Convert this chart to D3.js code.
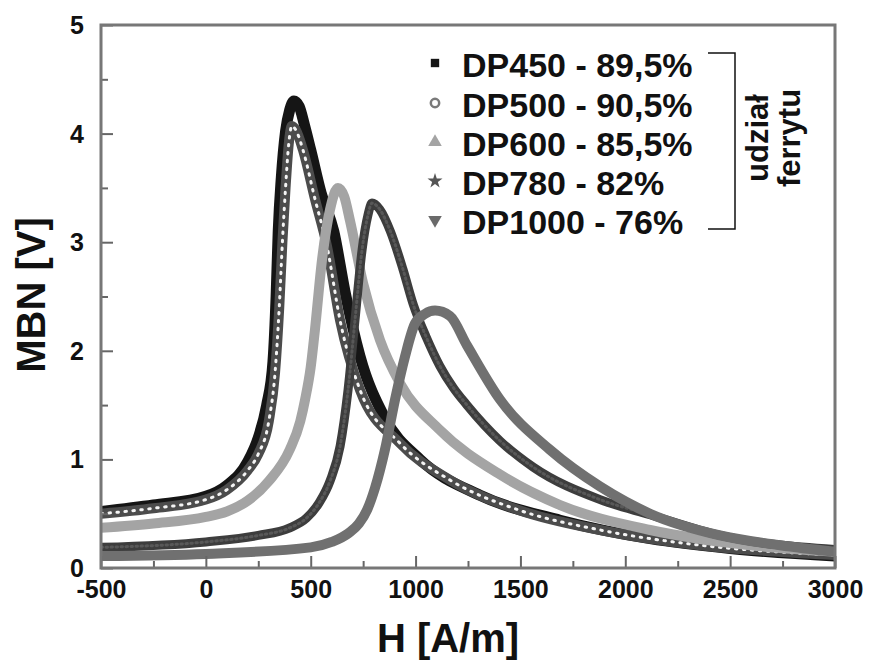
<!DOCTYPE html>
<html>
<head>
<meta charset="utf-8">
<script src="https://cdn.jsdelivr.net/npm/d3@7/dist/d3.min.js"></script>
<style>
  body { margin: 0; background: #fff; }
  svg text { font-family: "Liberation Sans", Arial, sans-serif; font-weight: bold; fill: #111; }
</style>
</head>
<body>
<svg id="chart" width="875" height="662"></svg>
<script>
// values: H [A/m] and MBN [V]
const H_DP450   = [-500, -250, 0, 100, 200, 250, 290, 320, 335, 345, 360, 380, 400, 420, 445, 470, 500, 550, 610, 663, 735, 854, 1021, 1307, 1689, 2118, 2500, 3000];
const MBN_DP450 = [0.52, 0.58, 0.66, 0.76, 0.98, 1.2, 1.5, 1.9, 2.5, 3.1, 3.6, 4.02, 4.22, 4.3, 4.25, 4.08, 3.85, 3.45, 3.1, 2.55, 1.95, 1.38, 1.0, 0.67, 0.44, 0.27, 0.18, 0.11];

const H_DP500   = [-500, -250, 0, 100, 200, 250, 300, 330, 350, 365, 380, 395, 410, 430, 463, 520, 578, 640, 735, 925, 1164, 1498, 1880, 2356, 3000];
const MBN_DP500 = [0.5, 0.55, 0.63, 0.72, 0.9, 1.05, 1.35, 1.8, 2.4, 3.0, 3.5, 3.9, 4.07, 4.03, 3.85, 3.4, 2.96, 2.28, 1.64, 1.15, 0.81, 0.53, 0.35, 0.21, 0.12];

const H_DP600   = [-500, -250, 0, 100, 200, 300, 400, 450, 473, 500, 520, 554, 592, 630, 660, 687, 750, 830, 926, 1116, 1403, 1689, 2118, 2595, 3000];
const MBN_DP600 = [0.37, 0.41, 0.47, 0.52, 0.62, 0.8, 1.09, 1.35, 1.55, 1.85, 2.19, 2.84, 3.3, 3.5, 3.42, 3.2, 2.62, 2.1, 1.7, 1.27, 0.86, 0.58, 0.35, 0.21, 0.15];

const H_DP780   = [-500, 0, 250, 400, 480, 540, 592, 640, 678, 711, 745, 773, 792, 830, 880, 940, 990, 1050, 1116, 1180, 1245, 1403, 1560, 1880, 2118, 2452, 3000];
const MBN_DP780 = [0.19, 0.24, 0.3, 0.37, 0.46, 0.6, 0.8, 1.12, 1.64, 2.28, 2.93, 3.25, 3.36, 3.3, 3.1, 2.75, 2.42, 2.13, 1.86, 1.66, 1.5, 1.17, 0.93, 0.63, 0.49, 0.3, 0.17];

const H_DP1000   = [-500, 0, 500, 600, 680, 730, 770, 807, 854, 902, 950, 997, 1045, 1093, 1164, 1245, 1403, 1640, 1880, 2118, 2452, 2738, 3000];
const MBN_DP1000 = [0.11, 0.13, 0.19, 0.24, 0.32, 0.41, 0.54, 0.74, 1.09, 1.55, 1.95, 2.25, 2.34, 2.37, 2.32, 2.05, 1.55, 1.09, 0.75, 0.5, 0.3, 0.21, 0.15];

const seriesNames = ["DP450 - 89,5%", "DP500 - 90,5%", "DP600 - 85,5%", "DP780 - 82%", "DP1000 - 76%"];
const xMajor = [-500, 0, 500, 1000, 1500, 2000, 2500, 3000];
const xMinor = [-250, 250, 750, 1250, 1750, 2250, 2750];
const yMajor = [0, 1, 2, 3, 4, 5];
const yMinor = [0.5, 1.5, 2.5, 3.5, 4.5];

const styles = [
  { band: "#151515", w: 11, symbol: d3.symbolSquare, size: 70, fill: "#151515", stroke: "none" },
  { band: "#4c4c4c", w: 10, dots: "#f4f4f4", dotW: 3, dash: "1.5 6.5", symbol: d3.symbolCircle, size: 55, fill: "#fff", stroke: "#7a7a7a" },
  { band: "#a4a4a4", w: 10, symbol: d3.symbolTriangle, size: 80, fill: "#a4a4a4", stroke: "none" },
  { band: "#3d3d3d", w: 9, dots: "#585858", dotW: 3, dash: "1.5 3.5", symbol: d3.symbolStar, size: 70, fill: "#555", stroke: "none" },
  { band: "#707070", w: 10, symbol: d3.symbolTriangle, size: 80, fill: "#6a6a6a", stroke: "none", flip: true }
];

const series = [
  d3.zip(H_DP450, MBN_DP450),
  d3.zip(H_DP500, MBN_DP500),
  d3.zip(H_DP600, MBN_DP600),
  d3.zip(H_DP780, MBN_DP780),
  d3.zip(H_DP1000, MBN_DP1000)
];

const m = { left: 101, right: 835, top: 25, bottom: 568 };
const svg = d3.select("#chart");

const x = d3.scaleLinear().domain([-500, 3000]).range([m.left, m.right]);
const y = d3.scaleLinear().domain([0, 5]).range([m.bottom, m.top]);

svg.append("clipPath").attr("id", "plot")
  .append("rect")
  .attr("x", m.left).attr("y", m.top)
  .attr("width", m.right - m.left).attr("height", m.bottom - m.top);

const line = d3.line()
  .x(d => x(d[0]))
  .y(d => y(d[1]))
  .curve(d3.curveMonotoneX);

const plot = svg.append("g").attr("clip-path", "url(#plot)");

series.forEach((s, i) => {
  const st = styles[i];
  plot.append("path")
    .datum(s)
    .attr("d", line)
    .attr("fill", "none")
    .attr("stroke", st.band)
    .attr("stroke-width", st.w)
    .attr("stroke-linejoin", "round");
  if (st.dots) {
    plot.append("path")
      .datum(s)
      .attr("d", line)
      .attr("fill", "none")
      .attr("stroke", st.dots)
      .attr("stroke-width", st.dotW)
      .attr("stroke-dasharray", st.dash)
      .attr("stroke-linecap", "round");
  }
});

// axes with inward ticks
const axisColor = "#666";
const fmt = d => String(d);
const gx = svg.append("g").attr("transform", `translate(0,${m.bottom})`)
  .call(d3.axisBottom(x).tickValues(xMajor).tickFormat(fmt).tickSizeInner(-12).tickSizeOuter(0).tickPadding(12));
const gxm = svg.append("g").attr("transform", `translate(0,${m.bottom})`)
  .call(d3.axisBottom(x).tickValues(xMinor).tickFormat("").tickSizeInner(-7).tickSizeOuter(0));
const gy = svg.append("g").attr("transform", `translate(${m.left},0)`)
  .call(d3.axisLeft(y).tickValues(yMajor).tickFormat(fmt).tickSizeInner(-12).tickSizeOuter(0).tickPadding(17));
const gym = svg.append("g").attr("transform", `translate(${m.left},0)`)
  .call(d3.axisLeft(y).tickValues(yMinor).tickFormat("").tickSizeInner(-7).tickSizeOuter(0));

[gx, gxm, gy, gym].forEach(g => {
  g.select(".domain").remove();
  g.selectAll(".tick line").attr("stroke", axisColor).attr("stroke-width", 2);
  g.selectAll(".tick text").attr("font-size", 25).attr("fill", "#111");
});
gy.selectAll(".tick text").attr("dy", "0.34em");

svg.append("rect")
  .attr("x", m.left).attr("y", m.top)
  .attr("width", m.right - m.left).attr("height", m.bottom - m.top)
  .attr("fill", "none")
  .attr("stroke", "#777")
  .attr("stroke-width", 3);

// axis titles
svg.append("text")
  .attr("x", (m.left + m.right) / 2 - 20).attr("y", 652)
  .attr("text-anchor", "middle")
  .attr("font-size", 40)
  .text("H [A/m]");

svg.append("text")
  .attr("transform", `translate(45,295) rotate(-90)`)
  .attr("text-anchor", "middle")
  .attr("font-size", 40)
  .text("MBN [V]");

// legend
const legendRows = [65, 105, 144, 183, 222];
const legend = svg.append("g");
seriesNames.forEach((name, i) => {
  const st = styles[i];
  const yy = legendRows[i];
  legend.append("path")
    .attr("d", d3.symbol(st.symbol, st.size)())
    .attr("transform", `translate(435,${yy - 2})` + (st.flip ? " rotate(180)" : ""))
    .attr("fill", st.fill)
    .attr("stroke", st.stroke)
    .attr("stroke-width", 2.5);
  legend.append("text")
    .attr("x", 462).attr("y", yy + 12)
    .attr("font-size", 34)
    .text(name);
});

// bracket + "udział ferrytu"
svg.append("path")
  .attr("d", d3.line()([[708, 53], [735, 53], [735, 229], [708, 229]]))
  .attr("fill", "none")
  .attr("stroke", "#111")
  .attr("stroke-width", 1.5);

const note = svg.append("text")
  .attr("transform", "translate(768,138) rotate(-90)")
  .attr("text-anchor", "middle")
  .attr("font-size", 31);
note.append("tspan").attr("x", 0).attr("y", 0).text("udział");
note.append("tspan").attr("x", 0).attr("y", 32).text("ferrytu");
</script>
</body>
</html>
